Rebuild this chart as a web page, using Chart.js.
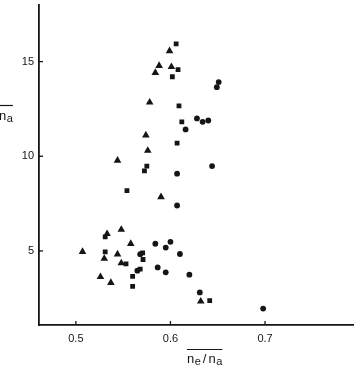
<!DOCTYPE html>
<html>
<head>
<meta charset="utf-8">
<script src="https://cdn.jsdelivr.net/npm/chart.js@4/dist/chart.umd.min.js"></script>
<style>
html,body{margin:0;padding:0;background:#fff;}
#c{display:block;}
</style>
</head>
<body>
<canvas id="c" width="358" height="370" style="width:358px;height:370px"></canvas>
<script>
// Tick labels
const xTicks = [0.5, 0.6, 0.7];
const yTicks = [5, 10, 15];

// Series: triangles
const triX = [0.599, 0.588, 0.601, 0.584, 0.578, 0.574, 0.576, 0.544, 0.590, 0.548, 0.533, 0.558, 0.507, 0.544, 0.530, 0.548, 0.526, 0.537, 0.632];
const triY = [15.56, 14.78, 14.72, 14.41, 12.85, 11.11, 10.30, 9.78, 7.85, 6.13, 5.90, 5.38, 4.96, 4.83, 4.60, 4.36, 3.63, 3.32, 2.34];
// Series: squares
const sqX = [0.606, 0.608, 0.602, 0.609, 0.612, 0.607, 0.575, 0.5725, 0.554, 0.531, 0.531, 0.5706, 0.571, 0.553, 0.568, 0.560, 0.560, 0.6415];
const sqY = [15.94, 14.58, 14.20, 12.66, 11.82, 10.69, 9.48, 9.23, 8.19, 5.74, 4.95, 4.90, 4.55, 4.32, 4.04, 3.66, 3.13, 2.38];
// Series: circles
const ciX = [0.651, 0.649, 0.628, 0.634, 0.640, 0.616, 0.644, 0.607, 0.607, 0.584, 0.600, 0.595, 0.568, 0.610, 0.5865, 0.595, 0.565, 0.620, 0.631, 0.698];
const ciY = [13.92, 13.65, 12.00, 11.82, 11.89, 11.42, 9.48, 9.08, 7.40, 5.38, 5.48, 5.18, 4.83, 4.84, 4.13, 3.87, 3.96, 3.75, 2.81, 1.96];

const toPts = (xs, ys) => xs.map((x, i) => ({x: x, y: ys[i]}));

const INK = '#151515';
const FONT = '"Liberation Sans", Arial, sans-serif';

const overlay = {
  id: 'overlay',
  afterDraw(chart) {
    const ctx = chart.ctx;
    const xs = chart.scales.x, ys = chart.scales.y;
    const a = chart.chartArea;
    ctx.save();
    ctx.strokeStyle = INK;
    ctx.lineWidth = 1.3;
    // inward tick marks
    yTicks.forEach(v => {
      const p = ys.getPixelForValue(v);
      ctx.beginPath(); ctx.moveTo(a.left, p); ctx.lineTo(a.left + 4, p); ctx.stroke();
    });
    xTicks.forEach(v => {
      const p = xs.getPixelForValue(v);
      ctx.beginPath(); ctx.moveTo(p, a.bottom); ctx.lineTo(p, a.bottom - 4); ctx.stroke();
    });
    // x title: overline n_e / n_a
    ctx.fillStyle = INK;
    ctx.textBaseline = 'alphabetic';
    ctx.textAlign = 'left';
    let x = 187, base = 363;
    const big = '13px ' + FONT, small = '11px ' + FONT;
    const parts = [['n', big, 0, 0.5], ['e', small, 1.5, 2], ['/', big, 0, 2], ['n', big, 0, 0.5], ['a', small, 1.5, 0]];
    parts.forEach(([t, f, dy, gap]) => {
      ctx.font = f;
      ctx.fillText(t, x, base + dy);
      x += ctx.measureText(t).width + gap;
    });
    ctx.lineWidth = 1.2;
    ctx.beginPath(); ctx.moveTo(187, 349.5); ctx.lineTo(x, 349.5); ctx.stroke();
    // y title: overline n_a
    let yx = -1, yb = 120;
    ctx.font = big; ctx.fillText('n', yx, yb); yx += ctx.measureText('n').width + 0.5;
    ctx.font = small; ctx.fillText('a', yx, yb + 1.5); yx += ctx.measureText('a').width;
    ctx.beginPath(); ctx.moveTo(0, 105.5); ctx.lineTo(yx, 105.5); ctx.stroke();
    ctx.restore();
  }
};

const zeroPad = s => { s.paddingTop = 0; s.paddingBottom = 0; s.paddingLeft = 0; s.paddingRight = 0; };

new Chart(document.getElementById('c'), {
  type: 'scatter',
  data: {
    datasets: [
      {label: 'triangles', data: toPts(triX, triY), pointStyle: 'triangle', pointRadius: 4.4, backgroundColor: INK, borderColor: INK, borderWidth: 0},
      {label: 'squares', data: toPts(sqX, sqY), pointStyle: 'rect', pointRadius: 3.4, backgroundColor: INK, borderColor: INK, borderWidth: 0},
      {label: 'circles', data: toPts(ciX, ciY), pointStyle: 'circle', pointRadius: 2.9, backgroundColor: INK, borderColor: INK, borderWidth: 0}
    ]
  },
  options: {
    responsive: false,
    devicePixelRatio: 1,
    animation: false,
    layout: {padding: {left: 0, right: 5, top: -3, bottom: 0}},
    plugins: {legend: {display: false}, tooltip: {enabled: false}},
    scales: {
      x: {
        type: 'linear', min: 0.461, max: 0.793,
        afterBuildTicks: s => { s.ticks = xTicks.map(v => ({value: v})); },
        afterFit: s => { s.height = 45; zeroPad(s); },
        grid: {display: false, drawTicks: false},
        border: {display: true, color: INK, width: 1.8},
        ticks: {color: INK, padding: 7, font: {family: FONT, size: 11}, callback: v => v.toFixed(1), maxRotation: 0}
      },
      y: {
        type: 'linear', min: 1.09, max: 18.02,
        afterBuildTicks: s => { s.ticks = yTicks.map(v => ({value: v})); },
        afterFit: s => { s.width = 39; zeroPad(s); },
        grid: {display: false, drawTicks: false},
        border: {display: true, color: INK, width: 1.8},
        ticks: {color: INK, padding: 5, font: {family: FONT, size: 11}, callback: v => String(v)}
      }
    }
  },
  plugins: [overlay]
});
</script>
</body>
</html>
